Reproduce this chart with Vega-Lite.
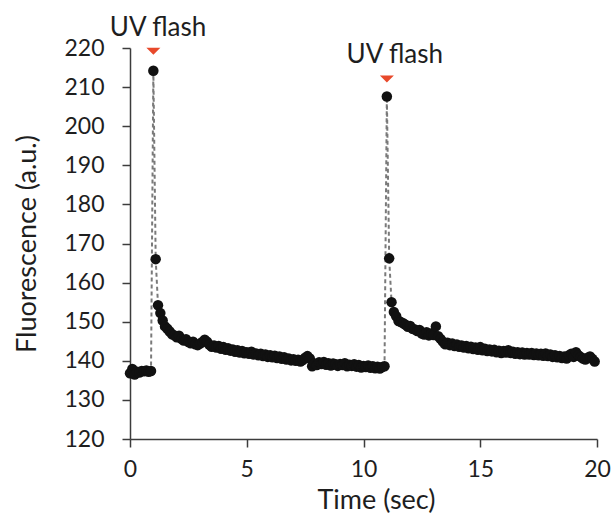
{
  "$schema": "https://vega.github.io/schema/vega-lite/v6.json",
  "width": 467,
  "height": 391,
  "autosize": "none",
  "padding": {"left": 130, "top": 48, "right": 16, "bottom": 83},
  "background": "white",
  "config": {
    "view": {"stroke": null},
    "font": "Lato",
    "axis": {
      "grid": false,
      "domainColor": "#3c3c3c",
      "domainWidth": 1.5,
      "tickColor": "#3c3c3c",
      "tickWidth": 1.5,
      "tickSize": 8,
      "labelFont": "Lato",
      "labelFontSize": 23,
      "labelColor": "#1e1e1e",
      "labelOverlap": false,
      "labelFlush": false,
      "titleFont": "Lato",
      "titleFontSize": 27,
      "titleFontWeight": "normal",
      "titleColor": "#1e1e1e"
    }
  },
  "datasets": {
    "trace": [
      {"t":0.0,"f":136.8},{"t":0.1,"f":137.9},{"t":0.2,"f":136.5},{"t":0.3,"f":137.2},{"t":0.4,"f":137.0},{"t":0.5,"f":137.4},{"t":0.6,"f":137.3},{"t":0.7,"f":137.5},{"t":0.8,"f":137.2},{"t":0.9,"f":137.4},
      {"t":1.0,"f":214.2},{"t":1.1,"f":166.0},{"t":1.2,"f":154.2},{"t":1.3,"f":152.2},{"t":1.4,"f":150.3},{"t":1.5,"f":148.8},{"t":1.6,"f":148.2},{"t":1.7,"f":147.5},{"t":1.8,"f":146.8},{"t":1.9,"f":146.5},
      {"t":2.0,"f":146.0},{"t":2.1,"f":146.4},{"t":2.2,"f":145.6},{"t":2.3,"f":145.2},{"t":2.4,"f":145.5},{"t":2.5,"f":144.8},{"t":2.6,"f":144.5},{"t":2.7,"f":144.9},{"t":2.8,"f":144.2},{"t":2.9,"f":144.0},
      {"t":3.0,"f":144.4},{"t":3.1,"f":144.8},{"t":3.2,"f":145.4},{"t":3.3,"f":144.9},{"t":3.4,"f":144.1},{"t":3.5,"f":143.6},{"t":3.6,"f":143.9},{"t":3.7,"f":143.4},{"t":3.8,"f":143.8},{"t":3.9,"f":143.1},
      {"t":4.0,"f":143.5},{"t":4.1,"f":142.8},{"t":4.2,"f":143.2},{"t":4.3,"f":142.6},{"t":4.4,"f":142.9},{"t":4.5,"f":142.3},{"t":4.6,"f":142.7},{"t":4.7,"f":142.1},{"t":4.8,"f":142.5},{"t":4.9,"f":141.9},
      {"t":5.0,"f":142.2},{"t":5.1,"f":141.8},{"t":5.2,"f":142.3},{"t":5.3,"f":141.6},{"t":5.4,"f":141.9},{"t":5.5,"f":141.4},{"t":5.6,"f":141.8},{"t":5.7,"f":141.2},{"t":5.8,"f":141.6},{"t":5.9,"f":141.0},
      {"t":6.0,"f":141.4},{"t":6.1,"f":140.9},{"t":6.2,"f":141.3},{"t":6.3,"f":140.7},{"t":6.4,"f":141.1},{"t":6.5,"f":140.5},{"t":6.6,"f":140.9},{"t":6.7,"f":140.3},{"t":6.8,"f":140.6},{"t":6.9,"f":140.1},
      {"t":7.0,"f":140.4},{"t":7.1,"f":140.0},{"t":7.2,"f":140.3},{"t":7.3,"f":139.8},{"t":7.4,"f":140.2},{"t":7.5,"f":140.8},{"t":7.6,"f":141.2},{"t":7.7,"f":140.6},{"t":7.8,"f":138.6},{"t":7.9,"f":139.3},
      {"t":8.0,"f":138.9},{"t":8.1,"f":139.6},{"t":8.2,"f":139.2},{"t":8.3,"f":139.7},{"t":8.4,"f":139.0},{"t":8.5,"f":139.4},{"t":8.6,"f":138.8},{"t":8.7,"f":139.3},{"t":8.8,"f":139.1},{"t":8.9,"f":138.7},
      {"t":9.0,"f":139.2},{"t":9.1,"f":138.9},{"t":9.2,"f":139.4},{"t":9.3,"f":138.6},{"t":9.4,"f":139.0},{"t":9.5,"f":138.7},{"t":9.6,"f":139.1},{"t":9.7,"f":138.5},{"t":9.8,"f":138.9},{"t":9.9,"f":138.3},
      {"t":10.0,"f":138.7},{"t":10.1,"f":138.4},{"t":10.2,"f":138.8},{"t":10.3,"f":138.2},{"t":10.4,"f":138.6},{"t":10.5,"f":138.1},{"t":10.6,"f":138.5},{"t":10.7,"f":138.0},{"t":10.8,"f":138.4},{"t":10.9,"f":138.6},
      {"t":11.0,"f":207.6},{"t":11.1,"f":166.2},{"t":11.2,"f":155.0},{"t":11.3,"f":152.5},{"t":11.4,"f":151.4},{"t":11.5,"f":150.2},{"t":11.6,"f":149.9},{"t":11.7,"f":149.6},{"t":11.8,"f":149.2},{"t":11.9,"f":148.7},
      {"t":12.0,"f":148.9},{"t":12.1,"f":148.2},{"t":12.2,"f":148.0},{"t":12.3,"f":147.6},{"t":12.4,"f":147.9},{"t":12.5,"f":147.0},{"t":12.6,"f":146.7},{"t":12.7,"f":147.3},{"t":12.8,"f":146.5},{"t":12.9,"f":147.0},
      {"t":13.0,"f":146.6},{"t":13.1,"f":148.8},{"t":13.2,"f":146.3},{"t":13.3,"f":145.6},{"t":13.4,"f":144.9},{"t":13.5,"f":144.2},{"t":13.6,"f":144.6},{"t":13.7,"f":144.0},{"t":13.8,"f":144.4},{"t":13.9,"f":143.8},
      {"t":14.0,"f":144.2},{"t":14.1,"f":143.6},{"t":14.2,"f":143.9},{"t":14.3,"f":143.4},{"t":14.4,"f":143.8},{"t":14.5,"f":143.2},{"t":14.6,"f":143.6},{"t":14.7,"f":143.0},{"t":14.8,"f":143.4},{"t":14.9,"f":142.8},
      {"t":15.0,"f":143.5},{"t":15.1,"f":142.7},{"t":15.2,"f":143.1},{"t":15.3,"f":142.5},{"t":15.4,"f":142.9},{"t":15.5,"f":142.4},{"t":15.6,"f":142.8},{"t":15.7,"f":142.2},{"t":15.8,"f":142.6},{"t":15.9,"f":142.0},
      {"t":16.0,"f":142.5},{"t":16.1,"f":142.1},{"t":16.2,"f":142.7},{"t":16.3,"f":142.0},{"t":16.4,"f":142.3},{"t":16.5,"f":141.8},{"t":16.6,"f":142.2},{"t":16.7,"f":141.7},{"t":16.8,"f":142.1},{"t":16.9,"f":141.6},
      {"t":17.0,"f":142.0},{"t":17.1,"f":141.6},{"t":17.2,"f":142.0},{"t":17.3,"f":141.5},{"t":17.4,"f":141.9},{"t":17.5,"f":141.4},{"t":17.6,"f":141.8},{"t":17.7,"f":141.3},{"t":17.8,"f":141.9},{"t":17.9,"f":141.2},
      {"t":18.0,"f":141.6},{"t":18.1,"f":141.0},{"t":18.2,"f":141.4},{"t":18.3,"f":140.9},{"t":18.4,"f":141.2},{"t":18.5,"f":140.7},{"t":18.6,"f":141.1},{"t":18.7,"f":140.6},{"t":18.8,"f":141.4},{"t":18.9,"f":141.8},
      {"t":19.0,"f":141.0},{"t":19.1,"f":142.2},{"t":19.2,"f":141.4},{"t":19.3,"f":141.0},{"t":19.4,"f":140.6},{"t":19.5,"f":140.3},{"t":19.6,"f":140.8},{"t":19.7,"f":141.1},{"t":19.8,"f":140.5},{"t":19.9,"f":139.8}
    ],
    "flash": [
      {"t": 1.0, "mark_f": 219.2, "label": "UV flash", "label_t": 1.2, "label_f": 223.0},
      {"t": 11.0, "mark_f": 212.1, "label": "UV flash", "label_t": 11.34, "label_f": 216.2}
    ]
  },
  "encoding": {
    "x": {
      "field": "t", "type": "quantitative",
      "scale": {"domain": [0, 20], "nice": false},
      "axis": {"values": [0, 5, 10, 15, 20], "title": "Time (sec)", "labelPadding": 11, "titlePadding": 6, "titleX": 246}
    },
    "y": {
      "field": "f", "type": "quantitative",
      "scale": {"domain": [120, 220], "nice": false, "zero": false},
      "axis": {"values": [120, 130, 140, 150, 160, 170, 180, 190, 200, 210, 220], "tickCount": 11, "title": "Fluorescence (a.u.)", "labelPadding": 18, "titlePadding": 22}
    }
  },
  "layer": [
    {
      "data": {"name": "trace"},
      "mark": {"type": "line", "stroke": "#7a7a7a", "strokeDash": [4, 3], "strokeWidth": 2}
    },
    {
      "data": {"name": "trace"},
      "mark": {"type": "point", "filled": true, "color": "#111111", "opacity": 1, "size": 110}
    },
    {
      "data": {"name": "flash"},
      "mark": {"type": "point", "filled": true, "color": "#e8492b", "opacity": 1, "size": 196, "shape": "M-1,-0.5L1,-0.5L0,0.5Z"},
      "encoding": {
        "y": {"field": "mark_f", "type": "quantitative"}
      }
    },
    {
      "data": {"name": "flash"},
      "mark": {"type": "text", "font": "Lato", "fontSize": 26, "color": "#1e1e1e", "align": "center", "baseline": "alphabetic"},
      "encoding": {
        "x": {"field": "label_t", "type": "quantitative"},
        "y": {"field": "label_f", "type": "quantitative"},
        "text": {"field": "label"}
      }
    }
  ]
}
